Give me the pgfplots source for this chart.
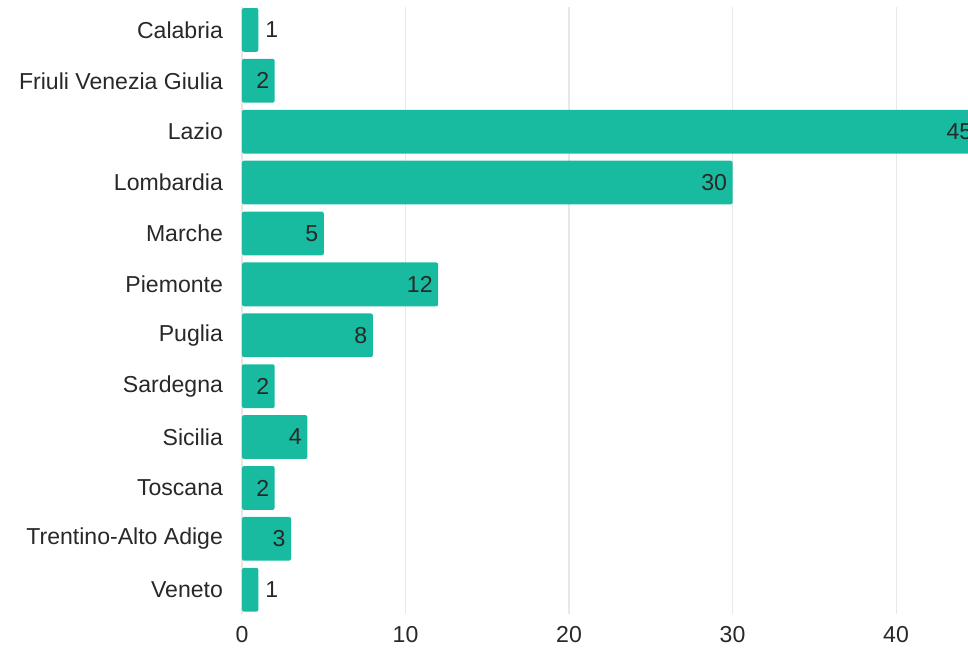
\documentclass[border=0pt]{standalone}
\usepackage{fontspec}
\setmainfont{Liberation Sans}
\usepackage{pgfplots}
\pgfplotsset{compat=1.18}
\definecolor{barteal}{RGB}{24,186,160}
\definecolor{labelgray}{RGB}{40,40,40}
\definecolor{gridgray}{RGB}{232,232,232}
\begin{document}
\begin{tikzpicture}
  \begin{axis}[
      xbar,
      bar shift=0pt,
      bar width=0.86,
      width=544.5pt, height=455pt,
      scale only axis,
      clip=false,
      xmin=0, xmax=44.4,
      ymin=-0.47, ymax=11.45,
      xtick={0,10,20,30,40},
      ytick={0,1,...,11},
      yticklabels={Veneto,Trentino-Alto Adige,Toscana,Sicilia,Sardegna,Puglia,Piemonte,Marche,Lombardia,Lazio,Friuli Venezia Giulia,Calabria},
      xmajorgrids,
      major grid style={draw=gridgray, line width=0.8pt},
      axis line style={draw=none},
      tick style={draw=none},
      tick label style={font=\fontsize{17.3}{19}\selectfont, text=labelgray},
      yticklabel style={xshift=-6.5pt},
      xticklabel style={yshift=-6pt},
      /pgf/number format/assume math mode=true,
      nodes near coords,
      nodes near coords style={font=\fontsize{17.3}{19}\selectfont, text=labelgray},
    ]
    % bars with the value inside, at the end
    \addplot[fill=barteal, draw=none, rounded corners=1.5pt,
      every node near coord/.append style={anchor=east, inner sep=4pt}]
      coordinates {
        (2,10) (45,9) (30,8) (5,7) (12,6) (8,5) (2,4) (4,3) (2,2) (3,1)
      };
    % short bars with the value beside them
    \addplot[fill=barteal, draw=none, rounded corners=1.5pt,
      every node near coord/.append style={anchor=west, inner sep=5pt}]
      coordinates {
        (1,11) (1,0)
      };
  \end{axis}
  \pgfresetboundingbox
  \useasboundingbox ([xshift=-181.5pt,yshift=-27.75pt]current axis.south west)
    rectangle ([yshift=5.25pt]current axis.north east);
\end{tikzpicture}
\end{document}
